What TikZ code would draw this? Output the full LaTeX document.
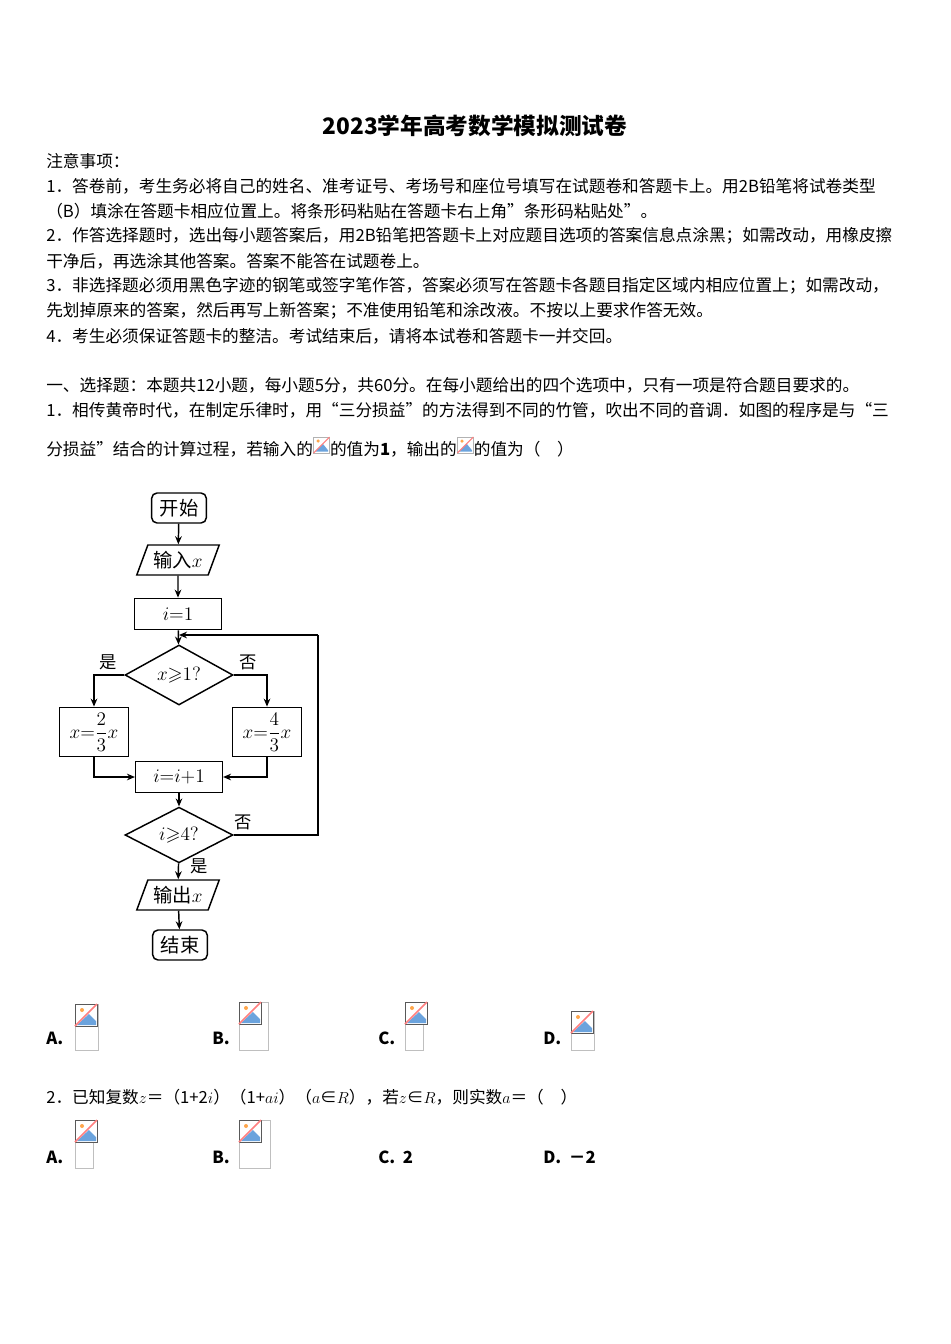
\documentclass[tikz,border=0pt]{standalone}
\usepackage{amsmath,amssymb}
\usepackage{fontspec}
\setmainfont{Noto Sans CJK SC}
\usetikzlibrary{shapes.geometric,arrows.meta}
\newcommand\phicon{\tikz[baseline=-2pt,x=1pt,y=1pt]{\draw[gray!60] (0,0) rectangle (12,12);\fill[orange!70] (3.5,9) circle (1.3);\fill[cyan!60!blue!60] (1,1)--(7,7)--(11,2)--(11,1)--cycle;\draw[red!50,line width=0.8pt](0,0)--(12,12);}}
\newcommand\phbox[4]{%
  \draw[gray!50] (#1,#2) rectangle (#3,#4);
  \begin{scope}[shift={(#1,#2)}]
    \fill[white] (0,0) rectangle (22,22);
    \draw[gray!70!black] (0,0) rectangle (22,22);
    \fill[orange!70] (7,6) circle (2);
    \fill[cyan!60!blue!60] (2,21)--(14,10)--(21,17)--(21,21)--cycle;
    \draw[red!50,line width=1.2pt] (0,22)--(22,0);
  \end{scope}}
\tikzset{
  txt/.style={anchor=west,inner sep=0pt,font=\fontsize{12.5}{14}\selectfont},
  btxt/.style={txt,font=\fontsize{12.5}{14}\selectfont\bfseries},
  fc/.style={draw,line width=1.1pt,font=\fontsize{14.5}{16}\selectfont,inner sep=1pt},
  term/.style={fc,rounded corners=4pt,minimum width=41pt,minimum height=22.5pt},
  proc/.style={fc,minimum width=65pt,minimum height=23.5pt},
  io/.style={fc,trapezium,trapezium left angle=65,trapezium right angle=115,trapezium stretches=true,minimum width=62pt,minimum height=22.5pt},
  dec/.style={fc,diamond,minimum width=81pt,minimum height=34pt,inner sep=0pt},
  arr/.style={line width=1.1pt,-{Stealth[length=6pt,width=5pt]}},
  ln/.style={line width=1.1pt},
  lab/.style={font=\fontsize{13}{14}\selectfont,inner sep=0pt}
}
\begin{document}
\begin{tikzpicture}[x=0.75pt,y=-0.75pt]
\useasboundingbox[fill=white] (0,0) rectangle (950,1344);
\node[font=\fontsize{17}{20}\selectfont\bfseries] (title) at (475,126) {2023学年高考数学模拟测试卷};
\node[txt] (l0) at (46,161) {注意事项：};
\node[txt] (l1) at (46,186) {1．答卷前，考生务必将自己的姓名、准考证号、考场号和座位号填写在试题卷和答题卡上。用2B铅笔将试卷类型};
\node[txt] (l2) at (46,211) {（B）填涂在答题卡相应位置上。将条形码粘贴在答题卡右上角"条形码粘贴处"。};
\node[txt] (l3) at (46,236) {2．作答选择题时，选出每小题答案后，用2B铅笔把答题卡上对应题目选项的答案信息点涂黑；如需改动，用橡皮擦};
\node[txt] (l4) at (46,261) {干净后，再选涂其他答案。答案不能答在试题卷上。};
\node[txt] (l5) at (46,286) {3．非选择题必须用黑色字迹的钢笔或签字笔作答，答案必须写在答题卡各题目指定区域内相应位置上；如需改动，};
\node[txt] (l6) at (46,311) {先划掉原来的答案，然后再写上新答案；不准使用铅笔和涂改液。不按以上要求作答无效。};
\node[txt] (l7) at (46,336) {4．考生必须保证答题卡的整洁。考试结束后，请将本试卷和答题卡一并交回。};
\node[txt] (l8) at (46,385) {一、选择题：本题共12小题，每小题5分，共60分。在每小题给出的四个选项中，只有一项是符合题目要求的。};
\node[txt] (l9) at (46,410) {1．相传黄帝时代，在制定乐律时，用“三分损益”的方法得到不同的竹管，吹出不同的音调．如图的程序是与“三};
\node[txt] (l10) at (46,447) {分损益”结合的计算过程，若输入的\phicon 的值为\textbf{1}，输出的\phicon 的值为（\quad ）};

% flowchart
\node[term] (start) at (179,508) {开始};
\node[io] (in) at (178,560) {输入$x$};
\node[proc] (i1) at (178,614) {$i{=}1$};
\node[dec] (d1) at (179,675) {$x{\geqslant}1?$};
\node[proc,minimum width=52pt,minimum height=37pt] (L) at (94,732) {$x{=}\dfrac{2}{3}x$};
\node[proc,minimum width=52pt,minimum height=37pt] (R) at (267,732) {$x{=}\dfrac{4}{3}x$};
\node[proc] (inc) at (179,777) {$i{=}i{+}1$};
\node[dec] (d2) at (179,835) {$i{\geqslant}4?$};
\node[io] (out) at (178,895) {输出$x$};
\node[term] (end) at (180,945) {结束};
\coordinate (top) at (179,635);
\coordinate (rt) at (318,835);
\coordinate (rtop) at (318,635);
\draw[arr] (start) -- (in);
\draw[arr] (in) -- (i1);
\draw[arr] (i1) -- (d1);
\draw[arr] (d1.west) -| (L.north);
\draw[arr] (d1.east) -| (R.north);
\draw[arr] (L.south) |- (inc.west);
\draw[arr] (R.south) |- (inc.east);
\draw[arr] (inc) -- (d2);
\draw[ln] (d2.east) -- (rt) -- (rtop);
\draw[arr] (rtop) -- (top);
\draw[arr] (d2) -- (out);
\draw[arr] (out) -- (end);
\node[lab] (y1) at (108,662) {是};
\node[lab] (n1) at (248,662) {否};
\node[lab] (n2) at (243,822) {否};
\node[lab] (y2) at (199,866) {是};

% options Q1
\node[btxt] (qa) at (46,1038) {A.};
\node[btxt] (qb) at (212,1038) {B.};
\node[btxt] (qc) at (378,1038) {C.};
\node[btxt] (qd) at (543,1038) {D.};
\phbox{75}{1004}{98}{1050}
\phbox{239}{1002}{268}{1050}
\phbox{405}{1002}{423}{1050}
\phbox{571}{1011}{594}{1050}
\node[txt] (q2) at (46,1097) {2．已知复数$z$＝（1+2$i$）（1+$ai$）（$a$∈$R$），若$z$∈$R$，则实数$a$＝（\quad ）};
\node[btxt] (ra) at (46,1157) {A.};
\node[btxt] (rb) at (212,1157) {B.};
\node[btxt] (rc) at (378,1157) {C.\ \ 2};
\node[btxt] (rd) at (543,1157) {D.\ \ －2};
\phbox{75}{1120}{93}{1168}
\phbox{239}{1120}{270}{1168}
\end{tikzpicture}
\end{document}
